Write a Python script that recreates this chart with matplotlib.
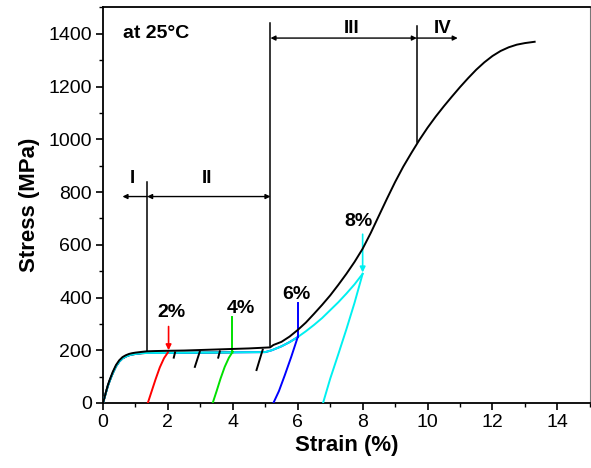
import matplotlib
matplotlib.use("Agg")
import matplotlib.pyplot as plt
from matplotlib.ticker import MultipleLocator

plt.rcParams['font.family'] = ['Liberation Sans', 'DejaVu Sans']

# black: full loading curve up to fracture
black_strain = [0, 0.05, 0.1, 0.15, 0.2, 0.25, 0.3, 0.4, 0.5, 0.6, 0.7, 0.8, 0.9, 1.0, 1.2, 1.35,
                1.6, 2.0, 2.5, 3.0, 3.5, 4.0, 4.5, 5.0, 5.15, 5.25, 5.5, 5.75, 6.0, 6.25,
                6.5, 6.75, 7.0, 7.25, 7.5, 7.75, 8.0, 8.25, 8.5, 8.75, 9.0, 9.25, 9.5,
                9.75, 10.0, 10.25, 10.5, 10.75, 11.0, 11.25, 11.5, 11.75, 12.0, 12.25,
                12.5, 12.75, 13.0, 13.3]
black_stress = [0, 23, 46, 68, 86, 102, 118, 144, 162, 174, 181, 186, 189, 191, 194, 196,
                197, 198, 199, 201, 203, 205, 207, 210, 211, 220, 232, 252, 277, 305,
                338, 372, 408, 448, 490, 535, 585, 645, 710, 775, 838, 896, 948,
                998, 1044, 1086, 1125, 1162, 1198, 1232, 1264, 1292, 1316, 1335,
                1349, 1359, 1365, 1370]

# small unloading marks on the black plateau
black_marks = [((2.18, 2.22), (172, 192)),
               ((2.83, 2.98), (137, 194)),
               ((3.55, 3.60), (172, 196)),
               ((4.73, 4.92), (125, 202))]

# coloured loading curves (shared elastic part + plateau)
load_strain = [0, 0.05, 0.1, 0.15, 0.2, 0.25, 0.3, 0.4, 0.5, 0.6, 0.7, 0.8, 0.9, 1.0, 1.2,
               1.4, 2.0, 3.0, 4.0, 5.0, 5.2, 5.5, 5.75, 6.0, 6.25, 6.5, 6.75, 7.0, 7.25,
               7.5, 7.75, 8.0]
load_stress = [0, 22, 44, 65, 82, 98, 113, 139, 157, 169, 176, 181, 184, 186, 189,
               190, 190, 191, 192, 193, 200, 215, 231, 250, 272, 296, 322, 352, 382,
               415, 450, 490]

# unloading branches
red_unload_x = [1.38, 1.5, 1.62, 1.75, 1.88, 2.0]
red_unload_y = [0, 45, 90, 135, 170, 192]
green_unload_x = [3.38, 3.5, 3.62, 3.75, 3.88, 4.0]
green_unload_y = [0, 45, 92, 137, 172, 195]
blue_unload_x = [5.25, 5.42, 5.6, 5.8, 6.0]
blue_unload_y = [0, 45, 105, 175, 250]
cyan_unload_x = [6.78, 7.0, 7.25, 7.5, 7.75, 8.0]
cyan_unload_y = [0, 92, 185, 280, 380, 490]

fig = plt.figure(figsize=(5.91, 4.68), dpi=100)
ax = fig.add_axes([0.1743, 0.1389, 0.8237, 0.8451])

lw = 1.4


def loading(upto):
    xs, ys = [], []
    for s, v in zip(load_strain, load_stress):
        if s <= upto + 1e-9:
            xs.append(s)
            ys.append(v)
    return xs, ys


for upto, c in [(2.0, '#ff0000'), (4.0, '#00e000'), (6.0, '#0000ff'), (8.0, '#00f0f0')]:
    xs, ys = loading(upto)
    ax.plot(xs, ys, color=c, lw=lw, zorder=3)

ax.plot(black_strain, black_stress, color='black', lw=lw, zorder=4)
for xs, ys in black_marks:
    ax.plot(xs, ys, color='black', lw=lw, zorder=4)

ax.plot(red_unload_x, red_unload_y, color='#ff0000', lw=lw, zorder=3)
ax.plot(green_unload_x, green_unload_y, color='#00e000', lw=lw, zorder=3)
ax.plot(blue_unload_x, blue_unload_y, color='#0000ff', lw=lw, zorder=3)
ax.plot(cyan_unload_x, cyan_unload_y, color='#00f0f0', lw=lw, zorder=3)

# markers at unloading points
ax.annotate('', xy=(2.02, 200), xytext=(2.02, 290),
            arrowprops=dict(arrowstyle='-|>', color='#ff0000', lw=1.2,
                            mutation_scale=8, shrinkA=0, shrinkB=0))
ax.plot([3.98, 3.98], [195, 325], color='#00e000', lw=1.4, zorder=3)
ax.plot([6.0, 6.0], [250, 380], color='#0000ff', lw=1.4, zorder=3)
ax.annotate('', xy=(8.0, 495), xytext=(8.0, 640),
            arrowprops=dict(arrowstyle='-|>', color='#00f0f0', lw=1.2,
                            mutation_scale=8, shrinkA=0, shrinkB=0))

pct_kw = dict(ha='center', va='center', fontsize=14, fontweight='bold')
ax.text(2.1, 345, '2%', **pct_kw)
ax.text(4.25, 360, '4%', **pct_kw)
ax.text(5.96, 413, '6%', **pct_kw)
ax.text(7.88, 688, '8%', **pct_kw)

# stage boundaries
ax.plot([1.36, 1.36], [195, 840], color='black', lw=1.1)
ax.plot([5.16, 5.16], [215, 1440], color='black', lw=1.1)
ax.plot([9.67, 9.67], [990, 1430], color='black', lw=1.1)

arrow_kw = dict(color='black', lw=1.0, mutation_scale=7, shrinkA=0, shrinkB=0)
ax.annotate('', xy=(0.6, 783), xytext=(1.36, 783), arrowprops=dict(arrowstyle='-|>', **arrow_kw))
ax.annotate('', xy=(1.36, 783), xytext=(5.16, 783), arrowprops=dict(arrowstyle='<|-|>', **arrow_kw))
ax.annotate('', xy=(5.16, 1384), xytext=(9.67, 1384), arrowprops=dict(arrowstyle='<|-|>', **arrow_kw))
ax.annotate('', xy=(10.93, 1384), xytext=(9.67, 1384), arrowprops=dict(arrowstyle='-|>', **arrow_kw))

stage_kw = dict(ha='center', va='center', fontsize=13.5, fontweight='bold')
ax.text(0.92, 853, 'I', **stage_kw)
ax.text(3.2, 853, 'II', **stage_kw)
ax.text(7.65, 1420, 'III', **stage_kw)
ax.text(10.46, 1420, 'IV', **stage_kw)
ax.text(0.62, 1400, 'at 25°C', ha='left', va='center', fontsize=14, fontweight='bold')

ax.set_xlim(0, 15)
ax.set_ylim(0, 1500)
ax.xaxis.set_major_locator(MultipleLocator(2))
ax.xaxis.set_minor_locator(MultipleLocator(1))
ax.yaxis.set_minor_locator(MultipleLocator(100))
ax.set_yticks([0, 200, 400, 600, 800, 1000, 1200, 1400])
ax.tick_params(which='major', direction='out', length=5, width=1.2, labelsize=14, pad=3)
ax.tick_params(which='minor', direction='out', length=3, width=1.0)
for s in ax.spines.values():
    s.set_linewidth(1.3)
ax.spines['right'].set_linewidth(0.8)
ax.spines['right'].set_color('#777777')

ax.set_xlabel('Strain (%)', fontsize=16, fontweight='bold', labelpad=3)
ax.set_ylabel('Stress (MPa)', fontsize=16, fontweight='bold', labelpad=6)

fig.savefig('out.png', dpi=100)
